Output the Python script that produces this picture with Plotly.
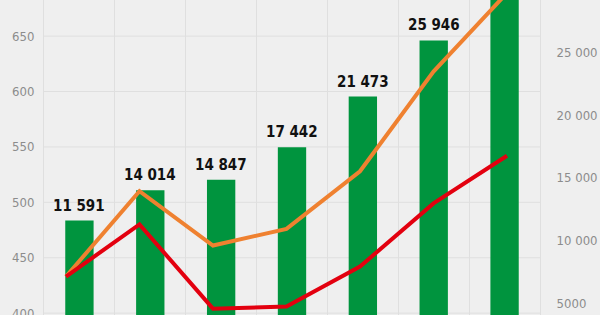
import plotly.graph_objects as go

# Data
categories = ["2017", "2018", "2019", "2020", "2021", "2022", "2023"]
bar_values = [11591, 14014, 14847, 17442, 21473, 25946, 30500]
orange_values = [433, 510, 461, 476, 528, 618, 689]
red_values = [433, 480, 404, 406, 442, 499, 542]
left_ticks = [400, 450, 500, 550, 600, 650]
right_ticks = [5000, 10000, 15000, 20000, 25000]
right_ticktext = ["5000", "10 000", "15 000", "20 000", "25 000"]


def fmt(v):
    return f"{v:,}".replace(",", " ")


idx = list(range(len(categories)))

BG = "#efefef"
GRID = "#dfdfdf"
TICKCOL = "#8c8c8c"
COND = "DejaVu Sans Condensed, Liberation Sans Narrow, Roboto, sans-serif"
TICKFONT = dict(family=COND, size=13, color=TICKCOL)

fig = go.Figure()

fig.add_trace(go.Bar(
    x=idx, y=bar_values, width=0.4, marker=dict(color="#00943e", line=dict(width=0)),
    yaxis="y2", xaxis="x", hoverinfo="skip", showlegend=False,
))

fig.add_trace(go.Scatter(
    x=idx, y=orange_values, mode="lines", line=dict(color="#ef8130", width=4),
    xaxis="x2", yaxis="y", showlegend=False,
))
fig.add_trace(go.Scatter(
    x=idx, y=red_values, mode="lines", line=dict(color="#e3000f", width=4),
    xaxis="x2", yaxis="y", showlegend=False,
))

annotations = []
for i, v in zip(idx, bar_values):
    annotations.append(dict(
        x=i, y=v, xref="x", yref="y2", text=fmt(v), showarrow=False,
        yanchor="bottom", xanchor="center", yshift=4,
        font=dict(family=COND, size=15, color="#111111", weight="bold"),
    ))

# horizontal gridlines drawn beneath all traces
shapes = [
    dict(type="line", xref="paper", x0=0, x1=1, yref="y", y0=t, y1=t,
         line=dict(color=GRID, width=1), layer="below")
    for t in left_ticks
]

fig.update_layout(
    width=600, height=315,
    margin=dict(l=44, r=60, t=0, b=0, autoexpand=False),
    paper_bgcolor=BG, plot_bgcolor="rgba(0,0,0,0)",
    showlegend=False,
    annotations=annotations,
    shapes=shapes,
    xaxis=dict(
        range=[-0.5, 6.5], tickmode="linear", tick0=-0.5, dtick=1,
        showticklabels=False, showgrid=True, gridcolor=GRID, gridwidth=1,
        zeroline=False, showline=False, ticks="", automargin=False,
    ),
    xaxis2=dict(
        range=[-0.299, 6.449], overlaying="x", showticklabels=False,
        showgrid=False, zeroline=False, showline=False, visible=False,
        automargin=False,
    ),
    yaxis=dict(
        range=[398.3, 682.6], tickvals=left_ticks, showgrid=False,
        zeroline=False, showline=True, linecolor=GRID, linewidth=1,
        tickfont=TICKFONT, ticks="", ticklabelstandoff=6,
        ticklabeloverflow="allow", automargin=False,
    ),
    yaxis2=dict(
        range=[4068, 29167], tickvals=right_ticks, ticktext=right_ticktext,
        overlaying="y", side="right", showgrid=False, zeroline=False,
        showline=True, linecolor=GRID, linewidth=1,
        tickfont=TICKFONT, ticks="", ticklabelstandoff=13,
        ticklabeloverflow="allow", automargin=False,
    ),
)

fig.write_html("out.html")
